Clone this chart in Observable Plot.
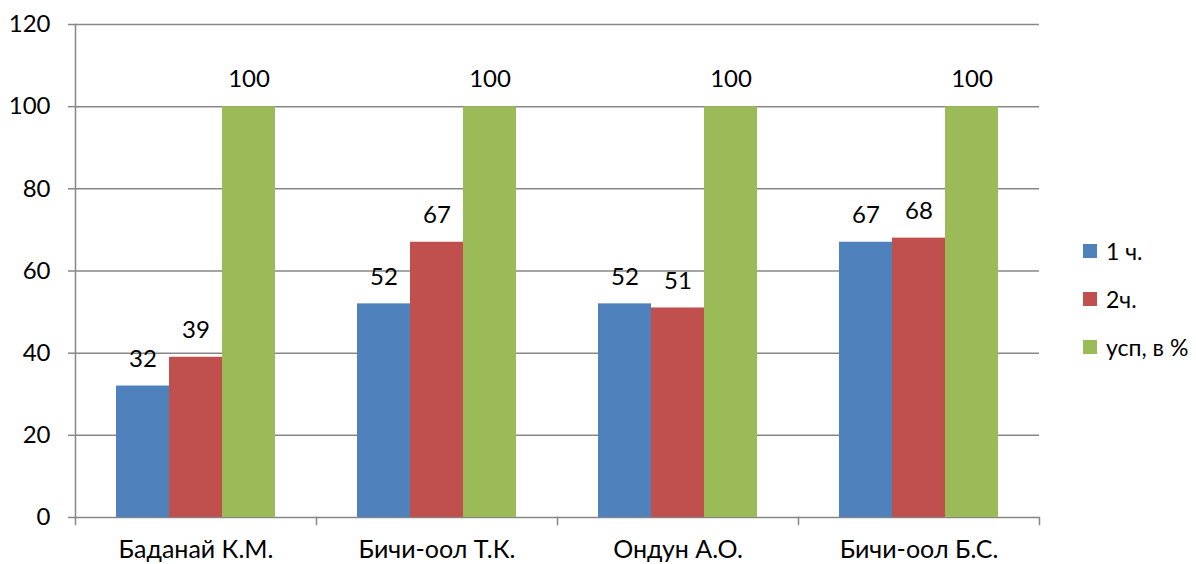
<!DOCTYPE html>
<html>
<head>
<meta charset="utf-8">
<script src="https://cdn.jsdelivr.net/npm/d3@7"></script>
<script src="https://cdn.jsdelivr.net/npm/@observablehq/plot@0.6"></script>
<style>
  html, body { margin: 0; padding: 0; background: #fff; }
  #wrap { position: relative; width: 1196px; height: 564px; font-family: Lato, "Noto Sans", sans-serif; }
  #legend { position: absolute; left: 1083px; top: 227px; font-size: 23px; color: #000; }
  .item { display: flex; align-items: center; height: 48px; }
  .sw { width: 14px; height: 14px; margin-right: 9px; }
</style>
</head>
<body>
<div id="wrap"><div id="chart"></div><div id="legend"></div></div>
<script>
const categories = ["Баданай К.М.", "Бичи-оол Т.К.", "Ондун А.О.", "Бичи-оол Б.С."];
const seriesNames = ["1 ч.", "2ч.", "усп, в %"];
const part1 = [32, 52, 52, 67];
const part2 = [39, 67, 51, 68];
const success = [100, 100, 100, 100];
const colors = ["#4F81BD", "#C0504D", "#9BBB59"];
const yTicks = [0, 20, 40, 60, 80, 100, 120];

const seriesValues = [part1, part2, success];
const data = [];
categories.forEach((c, i) => {
  seriesNames.forEach((s, j) => data.push({category: c, series: s, value: seriesValues[j][i]}));
});

const W = 1196, H = 564, mT = 24, mB = 47, mL = 73, mR = 156;
const innerH = H - mT - mB;
const gridColor = "#878787";

const chart = Plot.plot({
  width: W, height: H,
  marginTop: mT, marginBottom: mB, marginLeft: mL, marginRight: mR,
  style: {fontFamily: "Lato, 'Noto Sans', sans-serif", fontSize: "24px", color: "#000", background: "#fff"},
  fx: {domain: categories, padding: 0, label: null, axis: null},
  x: {domain: seriesNames, paddingInner: 0, paddingOuter: 0.75, axis: null},
  y: {domain: [0, 120], axis: null},
  color: {domain: seriesNames, range: colors},
  marks: [
    Plot.ruleY(yTicks, {stroke: gridColor, strokeWidth: 1.5}),
    Plot.frame({anchor: "left", facetAnchor: "left", stroke: gridColor, strokeWidth: 1.5}),
    Plot.frame({anchor: "left", insetTop: innerH, insetBottom: -7, stroke: gridColor, strokeWidth: 1.5}),
    Plot.frame({anchor: "right", facetAnchor: "right", insetTop: innerH, insetBottom: -7, stroke: gridColor, strokeWidth: 1.5}),
    Plot.axisY({ticks: yTicks, tickSize: 7, tickPadding: 18, stroke: gridColor, strokeWidth: 1.5, fontSize: 24, label: null, tickFormat: d => String(d), color: "#000"}),
    Plot.barY(data, {fx: "category", x: "series", y: "value", fill: "series"}),
    Plot.text(data, {fx: "category", x: "series", y: "value", text: d => String(d.value), dy: -27, fontSize: 24, fill: "#000"}),
    Plot.axisFx({anchor: "bottom", tickSize: 0, tickPadding: 23, fontSize: 25, label: null, color: "#000"})
  ]
});
document.getElementById("chart").appendChild(chart);

const legend = document.getElementById("legend");
seriesNames.forEach((s, i) => {
  const item = document.createElement("div");
  item.className = "item";
  const sw = document.createElement("div");
  sw.className = "sw";
  sw.style.background = colors[i];
  const t = document.createElement("span");
  t.textContent = s;
  item.appendChild(sw);
  item.appendChild(t);
  legend.appendChild(item);
});
</script>
</body>
</html>
